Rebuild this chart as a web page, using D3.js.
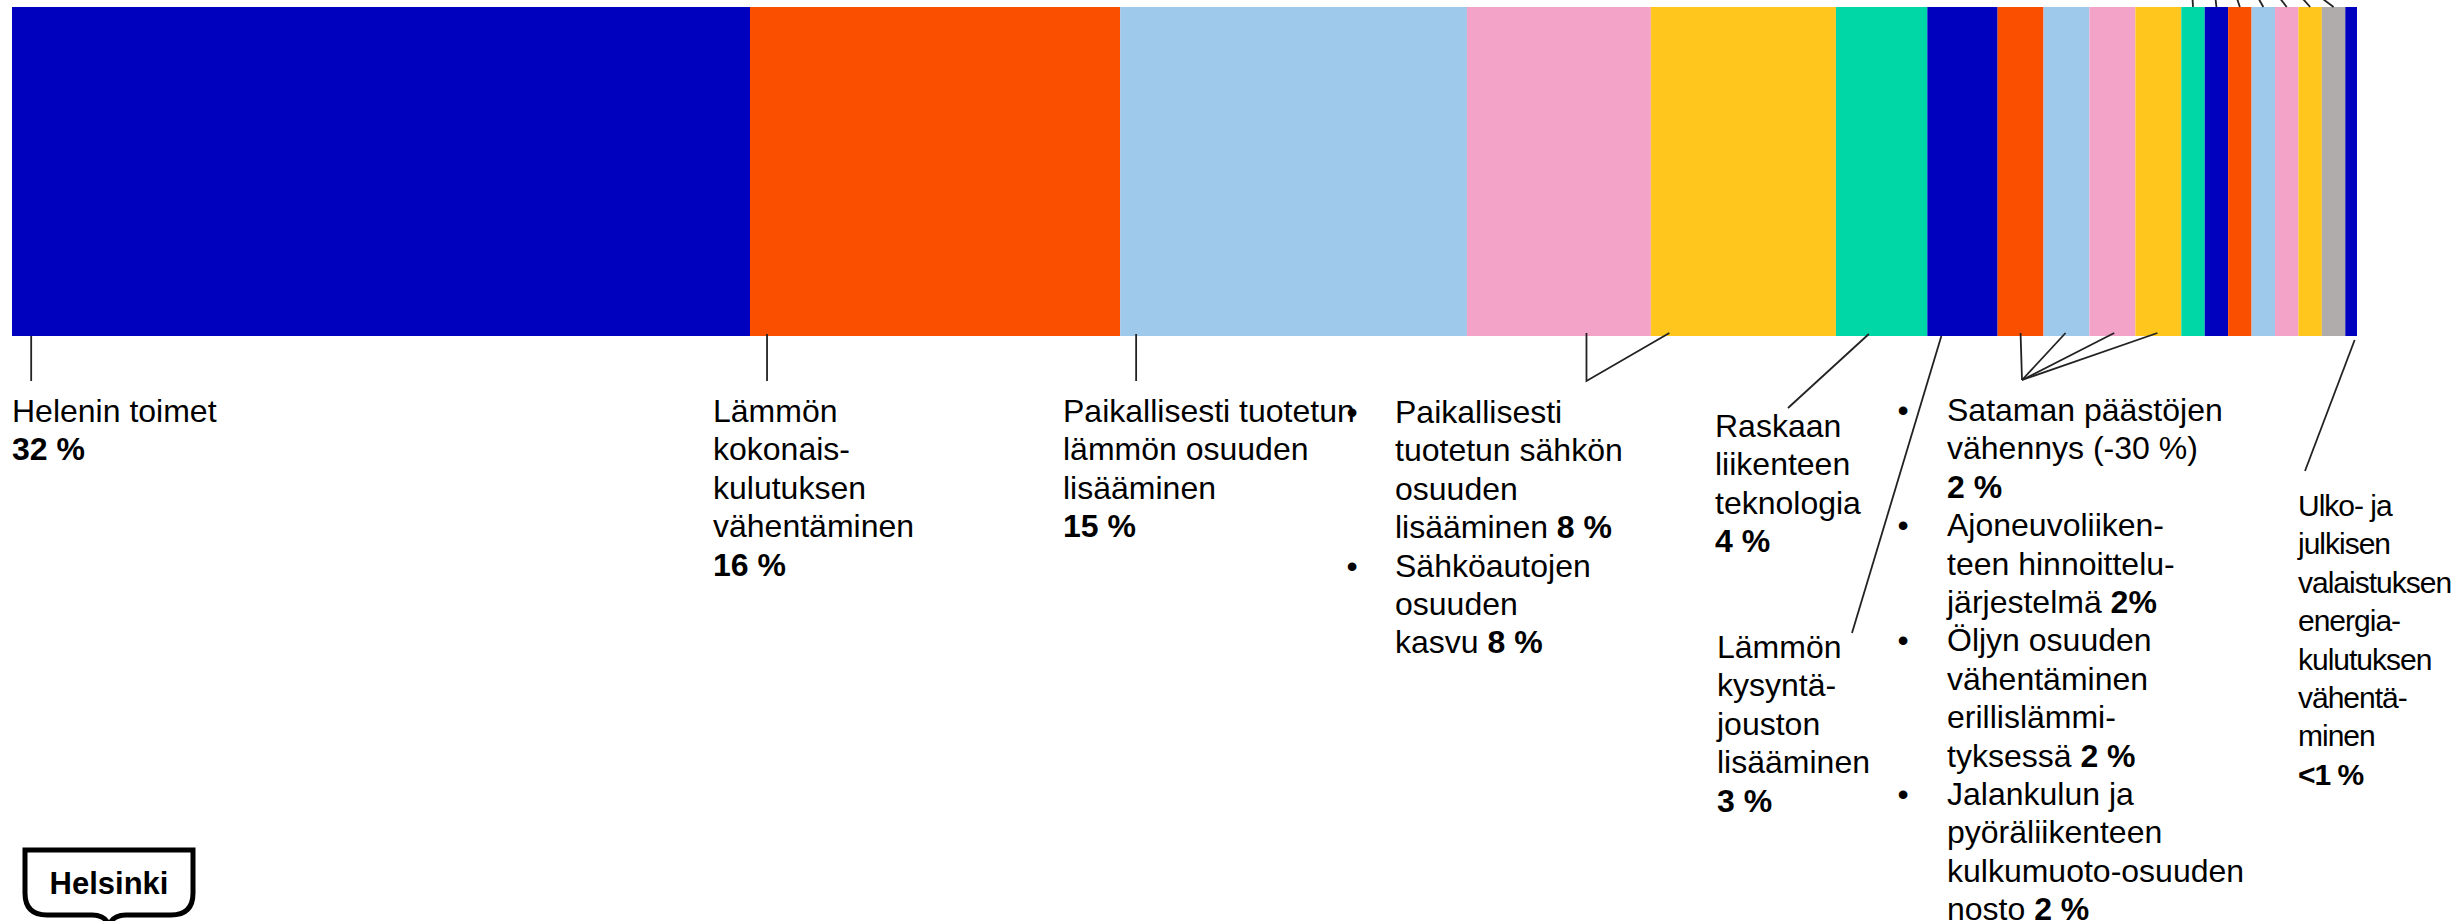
<!DOCTYPE html>
<html>
<head>
<meta charset="utf-8">
<script src="https://cdn.jsdelivr.net/npm/d3@7"></script>
<style>
  body { margin: 0; background: #fff; overflow: hidden; }
  svg { display: block; }
  text { font-family: "Liberation Sans", Arial, sans-serif; font-size: 32px; fill: #000; }
</style>
</head>
<body>
<div id="chart"></div>
<script>
// Share of emission reductions by measure (%)
const categories = [
  "Helenin toimet",
  "Lämmön kokonaiskulutuksen vähentäminen",
  "Paikallisesti tuotetun lämmön osuuden lisääminen",
  "Paikallisesti tuotetun sähkön osuuden lisääminen",
  "Sähköautojen osuuden kasvu",
  "Raskaan liikenteen teknologia",
  "Lämmön kysyntäjouston lisääminen",
  "Sataman päästöjen vähennys (-30 %)",
  "Ajoneuvoliikenteen hinnoittelujärjestelmä",
  "Öljyn osuuden vähentäminen erillislämmityksessä",
  "Jalankulun ja pyöräliikenteen kulkumuoto-osuuden nosto",
  "Muu toimenpide A",
  "Muu toimenpide B",
  "Muu toimenpide C",
  "Muu toimenpide D",
  "Muu toimenpide E",
  "Muu toimenpide F",
  "Muu toimenpide G",
  "Ulko- ja julkisen valaistuksen energiakulutuksen vähentäminen"
];
const shares = [31.5, 15.8, 14.8, 7.85, 7.9, 3.9, 3.0, 1.96, 1.96, 1.96, 1.96,
                1.0, 1.0, 1.0, 1.0, 1.0, 1.0, 1.0, 0.5];
const segmentColors = ["#0000bf", "#fb4f00", "#9fc9eb", "#f4a3c8", "#ffc61e", "#00d7a7",
                       "#0000bf", "#fb4f00", "#9fc9eb", "#f4a3c8", "#ffc61e", "#00d7a7",
                       "#0000bf", "#fb4f00", "#9fc9eb", "#f4a3c8", "#ffc61e", "#b0acac",
                       "#0000bf"];

// Label texts, one entry per line; **...** is bold, leading "• " marks a bullet
const labelHelen = ["Helenin toimet", "**32 %**"];
const labelKokonais = ["Lämmön", "kokonais-", "kulutuksen", "vähentäminen", "**16 %**"];
const labelLampo = ["Paikallisesti tuotetun", "lämmön osuuden", "lisääminen", "**15 %**"];
const labelSahko = ["• Paikallisesti", "tuotetun sähkön", "osuuden", "lisääminen **8 %**",
                    "• Sähköautojen", "osuuden", "kasvu **8 %**"];
const labelRaskas = ["Raskaan", "liikenteen", "teknologia", "**4 %**"];
const labelJousto = ["Lämmön", "kysyntä-", "jouston", "lisääminen", "**3 %**"];
const labelSatama = ["• Sataman päästöjen", "vähennys (-30 %)", "**2 %**",
                     "• Ajoneuvoliiken-", "teen hinnoittelu-", "järjestelmä **2%**",
                     "• Öljyn osuuden", "vähentäminen", "erillislämmi-", "tyksessä **2 %**",
                     "• Jalankulun ja", "pyöräliikenteen", "kulkumuoto-osuuden", "nosto **2 %**"];
const labelValaistus = ["Ulko- ja", "julkisen", "valaistuksen", "energia-", "kulutuksen",
                        "vähentä-", "minen", "**<1 %**"];

const width = 2458, height = 921;
const barTop = 7, barBottom = 336;
const lineH = 38.4;

const svg = d3.select("#chart").append("svg")
    .attr("width", width)
    .attr("height", height);

const total = d3.sum(shares);
const x = d3.scaleLinear().domain([0, total]).range([12, 2357]);

const segs = shares.map((v, i) => ({
  name: categories[i],
  x0: d3.sum(shares.slice(0, i)),
  x1: d3.sum(shares.slice(0, i + 1)),
  color: segmentColors[i]
}));

svg.append("g").selectAll("rect")
    .data(segs)
    .join("rect")
    .attr("x", d => x(d.x0))
    .attr("y", barTop)
    .attr("width", d => x(d.x1) - x(d.x0))
    .attr("height", barBottom - barTop)
    .attr("fill", d => d.color);

// point on the bar bottom inside segment i at fraction f
const at = (i, f) => x(segs[i].x0 + (segs[i].x1 - segs[i].x0) * f);

const leaders = svg.append("g")
    .attr("fill", "none")
    .attr("stroke", "#222")
    .attr("stroke-width", 1.8);

const poly = pts => leaders.append("path").attr("d", d3.line()(pts));

poly([[at(0, 0.026), barBottom], [at(0, 0.026), 381]]);
poly([[at(1, 0.046), barBottom - 2], [at(1, 0.046), 381]]);
poly([[at(2, 0.046), barBottom - 2], [at(2, 0.046), 381]]);
poly([[at(3, 0.65), barBottom - 3], [at(3, 0.65), 381], [at(4, 0.1), barBottom - 3]]);
poly([[at(5, 0.36), barBottom - 2], [1788, 408]]);
poly([[at(6, 0.2), barBottom], [1852, 633]]);
[7, 8, 9, 10].forEach((i, k) => {
  const f = [0.5, 0.48, 0.54, 0.48][k];
  poly([[2022, 380], [at(i, f), barBottom - 3]]);
});
poly([[at(18, 0.8), barBottom + 4], [2305, 471]]);

// leader lines of the small measures whose labels sit above the picture
const topLean = [0.5, 1, 3, 5, 7, 8, 12];
d3.range(11, 18).forEach((i, k) => {
  const cx = (x(segs[i].x0) + x(segs[i].x1)) / 2;
  poly([[cx, barTop], [cx - topLean[k], -2]]);
});

function drawLabel(lines, tx, y0, bulletX, size, spacing) {
  const g = svg.append("g");
  lines.forEach((ln, j) => {
    const y = y0 + j * lineH;
    let s = ln;
    if (s.startsWith("• ")) {
      s = s.slice(2);
      g.append("text").attr("x", bulletX).attr("y", y)
          .attr("text-anchor", "middle").text("•");
    }
    const t = g.append("text").attr("x", tx).attr("y", y)
        .style("font-size", size ? size + "px" : null)
        .style("letter-spacing", spacing ? spacing + "px" : null);
    s.split(/(\*\*[^*]+\*\*)/).filter(p => p.length).forEach(p => {
      const bold = p.startsWith("**");
      t.append("tspan")
          .attr("font-weight", bold ? "bold" : null)
          .text(bold ? p.slice(2, -2) : p);
    });
  });
}

drawLabel(labelHelen, 12, 422);
drawLabel(labelKokonais, 713, 422);
drawLabel(labelLampo, 1063, 422);
drawLabel(labelSahko, 1395, 423, 1352);
drawLabel(labelRaskas, 1715, 437);
drawLabel(labelJousto, 1717, 658);
drawLabel(labelSatama, 1947, 421, 1903);
drawLabel(labelValaistus, 2298, 516, null, 30, -1);

// Helsinki crest logo
const logo = svg.append("g");
logo.append("path")
    .attr("d", "M25,850 H193 V893 Q193,915 171,915 H126 Q113,915 109,925 Q105,915 92,915 H47 Q25,915 25,893 Z")
    .attr("fill", "none")
    .attr("stroke", "#000")
    .attr("stroke-width", 5);
logo.append("text")
    .attr("x", 109)
    .attr("y", 894)
    .attr("text-anchor", "middle")
    .attr("font-weight", "bold")
    .style("font-size", "31px")
    .text("Helsinki");
</script>
</body>
</html>
